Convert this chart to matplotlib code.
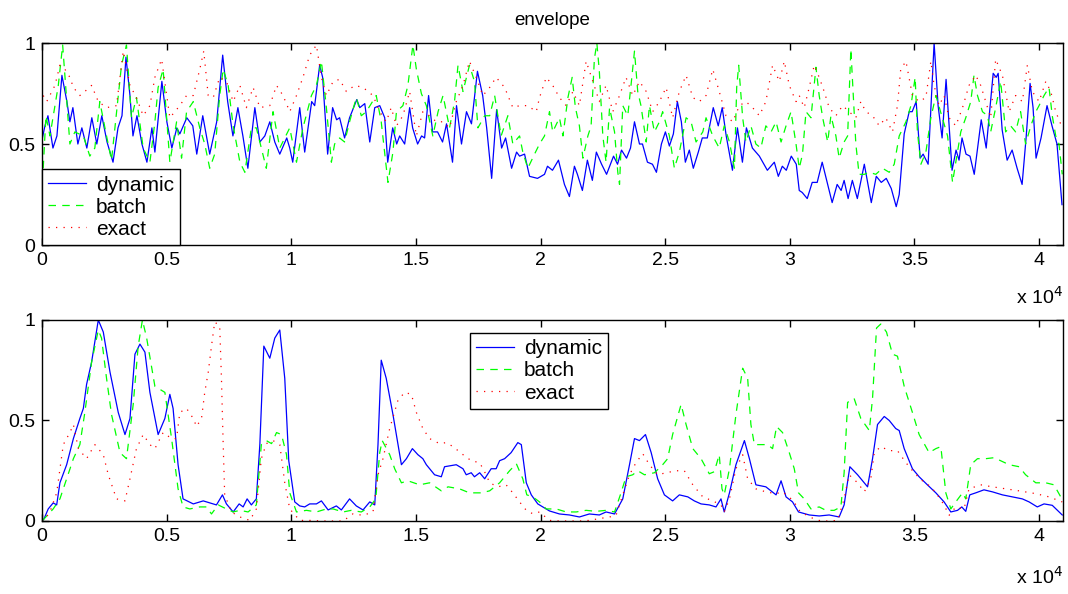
import matplotlib
matplotlib.use('Agg')
import matplotlib.pyplot as plt

# envelope values (x in samples, y normalised)
top_dynamic = [(0, .52), (120, .59), (240, .64), (440, .48), (600, .54), (800, .84), (1000, .71), (1120, .61),
               (1240, .68), (1440, .50), (1600, .58), (1800, .48), (2000, .63), (2200, .50), (2400, .64),
               (2610, .51), (2850, .41), (3050, .58), (3210, .64), (3370, .93), (3530, .74), (3650, .54),
               (3810, .64), (4010, .50), (4210, .41), (4410, .58), (4530, .46), (4810, .81), (5010, .61),
               (5210, .48), (5410, .58), (5530, .55), (5810, .63), (6050, .59), (6210, .45), (6450, .64),
               (6730, .45), (7010, .61), (7250, .94), (7450, .71), (7660, .54), (7860, .68), (8060, .54),
               (8260, .38), (8540, .68), (8740, .51), (8940, .54), (9140, .61), (9340, .51), (9540, .45),
               (9820, .53), (9940, .48), (10060, .41), (10340, .68), (10540, .46), (10820, .71), (10940, .69),
               (11140, .89), (11260, .83), (11460, .45), (11660, .68), (11820, .62), (11940, .63), (12140, .53),
               (12340, .63), (12630, .72), (12750, .68), (12950, .70), (13150, .51), (13350, .68), (13550, .69),
               (13750, .63), (13870, .41), (14070, .58), (14230, .50), (14350, .54), (14550, .50), (14750, .68),
               (14870, .58), (15070, .50), (15230, .54), (15350, .53), (15510, .74), (15670, .56), (15870, .56),
               (16070, .51), (16230, .60), (16470, .41), (16630, .69), (16830, .50), (17030, .66), (17230, .60),
               (17470, .86), (17680, .74), (17840, .58), (18040, .33), (18240, .67), (18440, .48), (18600, .53),
               (18840, .38), (19040, .46), (19160, .44), (19360, .45), (19560, .34), (19880, .33), (20160, .35),
               (20280, .39), (20480, .37), (20720, .42), (20960, .30), (21160, .24), (21360, .39), (21480, .35),
               (21680, .27), (21880, .42), (22080, .32), (22240, .46), (22450, .40), (22650, .35), (22930, .44),
               (23090, .40), (23250, .47), (23450, .43), (23610, .48), (23770, .61), (23970, .50), (24090, .50),
               (24290, .41), (24490, .40), (24650, .36), (24850, .50), (25010, .56), (25170, .49), (25330, .55),
               (25490, .71), (25650, .61), (25810, .41), (25970, .47), (26130, .38), (26330, .46), (26490, .53),
               (26690, .53), (26930, .68), (27130, .59), (27290, .68), (27450, .54), (27700, .37), (27900, .58),
               (28100, .41), (28260, .58), (28500, .48), (28780, .44), (29100, .37), (29380, .41), (29540, .34),
               (29700, .39), (29860, .37), (30060, .44), (30260, .40), (30380, .27), (30500, .26), (30700, .23),
               (30900, .31), (31100, .31), (31300, .41), (31500, .31), (31700, .21), (31900, .30), (32060, .27),
               (32180, .32), (32340, .23), (32510, .32), (32710, .23), (32990, .40), (33270, .21), (33470, .34),
               (33670, .31), (33870, .33), (34070, .28), (34270, .19), (34390, .25), (34590, .55), (34790, .66),
               (34910, .66), (35070, .71), (35230, .43), (35350, .45), (35550, .40), (35790, 1.0), (35950, .69),
               (36110, .53), (36270, .82), (36510, .37), (36670, .47), (36790, .42), (36910, .53), (37070, .45),
               (37230, .44), (37400, .35), (37680, .62), (37880, .48), (38160, .85), (38280, .83), (38360, .85),
               (38520, .57), (38720, .42), (38920, .47), (39120, .38), (39320, .30), (39480, .53), (39640, .80),
               (39760, .68), (39880, .43), (40080, .53), (40320, .69), (40520, .59), (40720, .50), (40920, .20)]

top_batch = [(50, .38), (160, .64), (320, .54), (655, .79), (830, .99), (1120, .50), (1320, .56), (1660, .54),
             (1920, .44), (2120, .48), (2320, .71), (2590, .54), (2790, .42), (3190, .89), (3390, .99), (3590, .63),
             (3790, .73), (4060, .48), (4330, .41), (4530, .61), (4660, .78), (4860, .87), (5130, .41), (5400, .61),
             (5600, .43), (5800, .66), (6070, .71), (6330, .58), (6530, .50), (6730, .38), (6930, .45), (7130, .74),
             (7270, .87), (7470, .79), (7670, .59), (7940, .41), (8140, .36), (8400, .58), (8600, .58), (9000, .38),
             (9270, .66), (9540, .48), (9940, .58), (10210, .41), (10470, .58), (10810, .74), (11010, .79),
             (11210, .91), (11410, .68), (11610, .41), (11740, .50), (11940, .53), (12140, .51), (12340, .61),
             (12610, .73), (12810, .64), (13010, .66), (13410, .74), (13610, .61), (13880, .31), (14080, .46),
             (14220, .66), (14480, .69), (14680, .79), (14880, .99), (15020, .87), (15220, .75), (15420, .69),
             (15680, .54), (15890, .66), (16090, .74), (16350, .58), (16550, .71), (16690, .89), (16890, .76),
             (17150, .89), (17350, .81), (17490, .58), (17760, .64), (17960, .64), (18160, .74), (18420, .54),
             (18690, .64), (18890, .50), (19160, .54), (19290, .46), (19490, .38), (19760, .45), (19960, .50),
             (20160, .54), (20360, .66), (20490, .56), (20760, .63), (20900, .54), (21100, .73), (21270, .83),
             (21400, .68), (21560, .59), (21700, .43), (21900, .54), (22030, .59), (22160, .92), (22260, 1.0),
             (22360, .86), (22500, .54), (22630, .41), (22770, .68), (22970, .56), (23100, .36), (23170, .30),
             (23300, .69), (23500, .64), (23630, .79), (23770, .96), (23900, .76), (24030, .69), (24240, .51),
             (24370, .69), (24570, .56), (24770, .61), (24900, .66), (25170, .54), (25370, .38), (25570, .46),
             (25840, .63), (26040, .61), (26240, .51), (26510, .56), (26640, .63), (26910, .54), (27170, .48),
             (27370, .59), (27580, .51), (27780, .38), (27870, .78), (27950, .89), (28110, .63), (28240, .51),
             (28440, .59), (28640, .50), (28840, .48), (29040, .59), (29250, .56), (29450, .61), (29650, .51),
             (29850, .59), (30050, .66), (30250, .50), (30380, .38), (30510, .45), (30650, .66), (30850, .63),
             (31050, .88), (31180, .74), (31320, .63), (31520, .51), (31650, .64), (31850, .54), (31980, .43),
             (32180, .51), (32320, .54), (32450, .97), (32540, .76), (32650, .50), (32780, .35), (32990, .35),
             (33190, .36), (33450, .35), (33720, .38), (33990, .36), (34190, .40), (34390, .54), (34660, .61),
             (34860, .69), (35030, .83), (35120, .56), (35260, .40), (35460, .46), (35660, .63), (35860, .74),
             (36120, .63), (36330, .54), (36530, .31), (36660, .41), (36860, .56), (37060, .63), (37260, .71),
             (37390, .84), (37530, .74), (37730, .66), (37930, .64), (38060, .56), (38260, .68), (38460, .81),
             (38660, .56), (38860, .59), (39060, .56), (39260, .66), (39460, .50), (39670, .59), (39870, .66),
             (40000, .69), (40200, .74), (40400, .78), (40530, .64), (40670, .54), (40800, .50), (40930, .35)]

top_exact = [(50, .74), (190, .71), (520, .79), (720, .89), (920, .87), (1120, .83), (1260, .78), (1520, .74),
             (1720, .76), (1990, .79), (2260, .71), (2590, .68), (2990, .69), (3260, .96), (3530, .79), (3790, .73),
             (4060, .64), (4330, .69), (4530, .83), (4800, .92), (5130, .63), (5530, .69), (5800, .74), (6070, .74),
             (6330, .87), (6490, .96), (6670, .74), (6870, .73), (7130, .83), (7400, .81), (7670, .71), (7940, .79),
             (8200, .68), (8470, .78), (8740, .68), (9140, .69), (9410, .79), (9670, .74), (9940, .66),
             (10210, .74), (10470, .83), (10740, .94), (11010, .99), (11210, .83), (11410, .74), (11680, .81),
             (11940, .82), (12210, .76), (12550, .79), (12880, .78), (13280, .74), (13550, .66), (13810, .61),
             (14010, .68), (14220, .59), (14480, .64), (14750, .76), (15020, .54), (15280, .66), (15550, .64),
             (15820, .61), (16090, .61), (16350, .58), (16620, .71), (16890, .79), (17150, .91), (17420, .83),
             (17690, .74), (17960, .78), (18220, .83), (18560, .78), (18890, .68), (19160, .69), (19490, .69),
             (19830, .66), (19960, .73), (20230, .83), (20490, .79), (20760, .73), (21030, .69), (21300, .76),
             (21560, .69), (21830, .91), (22100, .81), (22360, .71), (22630, .79), (22900, .66), (23170, .74),
             (23430, .83), (23700, .74), (23970, .81), (24240, .76), (24500, .66), (24770, .71), (25040, .78),
             (25300, .63), (25570, .76), (25840, .84), (26110, .73), (26370, .71), (26640, .74), (26910, .87),
             (27170, .76), (27440, .64), (27710, .61), (27980, .69), (28240, .71), (28510, .68), (28780, .64),
             (29040, .71), (29310, .89), (29580, .81), (29780, .91), (29980, .79), (30250, .71), (30380, .74),
             (30580, .68), (30780, .78), (30980, .89), (31180, .83), (31380, .76), (31580, .68), (31850, .64),
             (32120, .69), (32380, .66), (32650, .63), (32850, .71), (33050, .66), (33320, .64), (33590, .59),
             (33850, .63), (34120, .56), (34320, .69), (34450, .87), (34660, .91), (34920, .74), (35190, .71),
             (35460, .73), (35660, .91), (35790, .79), (35990, .69), (36190, .74), (36390, .63), (36660, .59),
             (36930, .68), (37190, .79), (37460, .84), (37660, .79), (37860, .71), (38060, .63), (38260, .92),
             (38530, .84), (38800, .66), (39060, .74), (39330, .71), (39530, .89), (39730, .76), (40000, .71),
             (40270, .81), (40470, .76), (40670, .66), (40930, .58)]

bottom_dynamic = [(0, 0.0), (80, .01), (250, .06), (450, .09), (590, .08), (720, .19), (990, .28), (1260, .41),
                  (1520, .51), (1660, .56), (1790, .68), (1990, .79), (2260, 1.0), (2460, .94), (2730, .74),
                  (3060, .54), (3330, .43), (3530, .51), (3730, .83), (3930, .88), (4130, .84), (4330, .64),
                  (4660, .43), (4930, .51), (5130, .63), (5260, .56), (5460, .28), (5660, .11), (6070, .085),
                  (6470, .10), (6730, .09), (7000, .08), (7240, .13), (7400, .085), (7670, .045), (7910, .085),
                  (8070, .07), (8230, .11), (8400, .08), (8600, .11), (8740, .38), (8900, .87), (9140, .81),
                  (9340, .91), (9540, .95), (9740, .71), (9900, .30), (10140, .095), (10340, .075), (10540, .07),
                  (10740, .085), (11010, .085), (11210, .10), (11480, .055), (11810, .075), (12010, .055),
                  (12340, .11), (12610, .075), (12880, .055), (13150, .095), (13350, .08), (13480, .38),
                  (13610, .80), (13810, .71), (14080, .53), (14420, .28), (14620, .31), (14860, .36), (15080, .33),
                  (15280, .31), (15420, .28), (15750, .23), (16020, .22), (16150, .27), (16620, .28), (16890, .26),
                  (17020, .23), (17220, .24), (17350, .22), (17560, .24), (17760, .21), (18020, .26), (18220, .26),
                  (18360, .30), (18560, .31), (18820, .34), (19090, .39), (19230, .38), (19430, .19), (19630, .13),
                  (19890, .085), (20360, .05), (20760, .035), (21160, .03), (21560, .02), (21960, .035),
                  (22360, .03), (22630, .045), (22970, .035), (23300, .11), (23570, .28), (23770, .41),
                  (23970, .40), (24210, .43), (24440, .34), (24700, .21), (24970, .13), (25300, .10), (25570, .13),
                  (25910, .12), (26170, .10), (26440, .085), (26770, .08), (27040, .07), (27240, .11),
                  (27370, .045), (27580, .14), (27840, .28), (28180, .40), (28380, .31), (28640, .18), (29040, .17),
                  (29450, .13), (29650, .20), (29850, .12), (30110, .095), (30350, .045), (30780, .03),
                  (31180, .025), (31580, .03), (31980, .02), (32180, .08), (32410, .27), (32720, .23), (33120, .17),
                  (33320, .31), (33520, .48), (33790, .52), (33990, .50), (34250, .46), (34390, .45), (34590, .36),
                  (34920, .26), (35190, .22), (35520, .18), (35860, .14), (36190, .095), (36460, .045),
                  (36730, .053), (36900, .07), (37060, .048), (37220, .13), (37460, .14), (37790, .155),
                  (38130, .145), (38530, .13), (38930, .12), (39330, .11), (39600, .095), (39930, .07),
                  (40200, .085), (40530, .078), (40930, .03)]

bottom_batch = [(0, 0.0), (80, .01), (450, .06), (720, .11), (990, .21), (1260, .31), (1520, .38), (1720, .54),
                (1990, .79), (2260, .95), (2390, .91), (2590, .71), (2790, .53), (3130, .34), (3390, .31),
                (3660, .58), (3860, .87), (4030, 1.0), (4200, .91), (4530, .67), (4930, .64), (5200, .41),
                (5460, .16), (5660, .07), (5930, .06), (6330, .07), (6600, .07), (6800, .035), (7070, .08),
                (7400, .06), (7670, .045), (7940, .053), (8270, .045), (8600, .08), (8800, .38), (9000, .40),
                (9210, .385), (9410, .44), (9610, .43), (9810, .33), (9940, .14), (10210, .045), (10610, .053),
                (11010, .045), (11410, .06), (11680, .06), (12080, .045), (12410, .053), (12810, .045),
                (13150, .07), (13390, .11), (13550, .34), (13650, .40), (13950, .33), (14150, .26), (14420, .19),
                (14680, .20), (15150, .18), (15550, .19), (16020, .15), (16290, .17), (16750, .16), (17150, .14),
                (17620, .14), (17960, .15), (18360, .19), (18760, .25), (19030, .285), (19290, .21), (19450, .13),
                (19690, .12), (19960, .095), (20230, .06), (20630, .06), (21030, .045), (21430, .045),
                (21830, .053), (22230, .048), (22630, .053), (22970, .045), (23230, .14), (23430, .22),
                (23700, .23), (23900, .25), (24170, .23), (24570, .24), (24900, .28), (25100, .31), (25300, .43),
                (25640, .58), (25840, .48), (26110, .36), (26440, .31), (26770, .235), (26970, .245), (27170, .33),
                (27280, .16), (27370, .13), (27580, .26), (27840, .53), (28110, .76), (28310, .71), (28440, .48),
                (28580, .38), (28910, .38), (29110, .38), (29310, .36), (29470, .47), (29710, .44), (29980, .34),
                (30180, .26), (30350, .14), (30580, .11), (30850, .06), (31180, .07), (31450, .053), (31780, .053),
                (32050, .07), (32180, .24), (32320, .59), (32580, .61), (32850, .51), (33190, .45), (33320, .61),
                (33480, .96), (33650, .98), (33880, .94), (34120, .83), (34320, .82), (34590, .67), (34920, .54),
                (35190, .43), (35590, .34), (35860, .36), (36060, .37), (36260, .14), (36460, .06), (36660, .095),
                (36930, .14), (37060, .11), (37260, .28), (37530, .31), (37860, .31), (38200, .315), (38460, .30),
                (38800, .28), (39200, .27), (39460, .23), (39870, .19), (40270, .19), (40600, .18), (40870, .12)]

bottom_exact = [(0, 0.0), (80, .003), (320, .045), (590, .14), (855, .38), (1120, .44), (1260, .48), (1460, .36),
                (1790, .31), (2120, .38), (2460, .33), (2660, .23), (2990, .11), (3330, .10), (3530, .21),
                (3790, .36), (4060, .43), (4330, .38), (4530, .36), (4860, .44), (5200, .41), (5400, .41),
                (5530, .54), (5800, .56), (6070, .51), (6200, .47), (6400, .51), (6530, .64), (6670, .74),
                (6800, .87), (6930, .99), (7130, .97), (7200, .71), (7270, .38), (7330, .13), (7600, .045),
                (7940, .02), (8340, .003), (8600, .06), (8800, .31), (9000, .385), (9270, .40), (9540, .38),
                (9740, .19), (9940, .06), (10340, .003), (10740, .003), (11280, 0.0), (11680, 0.0), (12080, 0.0),
                (12480, .036), (12880, .028), (13280, .045), (13480, .23), (13680, .31), (13950, .46), (14280, .60),
                (14550, .64), (14820, .63), (15020, .54), (15280, .46), (15550, .41), (15950, .385), (16220, .39),
                (16490, .37), (16890, .33), (17220, .30), (17560, .29), (17820, .23), (17960, .19), (18290, .17),
                (18620, .18), (18890, .14), (19160, .095), (19430, .053), (19690, .036), (19960, .045),
                (20360, .003), (20760, 0.0), (21160, 0.0), (21560, 0.0), (21960, .003), (22360, .012),
                (22770, .02), (23030, .028), (23300, .13), (23570, .23), (23830, .29), (24100, .335), (24370, .28),
                (24700, .23), (25040, .24), (25440, .25), (25770, .25), (26110, .18), (26510, .12), (26910, .10),
                (27240, .08), (27370, .045), (27580, .11), (27840, .26), (28110, .33), (28310, .21), (28640, .16),
                (29040, .145), (29450, .136), (29710, .145), (29980, .12), (30250, .08), (30380, .053),
                (30780, .02), (31250, 0.0), (31580, 0.0), (31920, .003), (32180, .11), (32380, .23), (32720, .19),
                (32990, .145), (33250, .21), (33390, .34), (33650, .37), (33990, .35), (34320, .35), (34660, .29),
                (34990, .24), (35320, .20), (35660, .17), (35920, .13), (36190, .08), (36390, .028), (36660, .07),
                (36990, .06), (37190, .16), (37660, .18), (38130, .17), (38660, .16), (39200, .15), (39870, .136),
                (40400, .12), (40930, .095)]

names = ['dynamic', 'batch', 'exact']
xtick_vals = [0, 5000, 10000, 15000, 20000, 25000, 30000, 35000, 40000]
xtick_labels = ['0', '0.5', '1', '1.5', '2', '2.5', '3', '3.5', '4']
ytick_vals = [0, 0.5, 1]
ytick_labels = ['0', '0.5', '1']

plt.rcParams['font.family'] = ['Liberation Sans', 'DejaVu Sans']
plt.rcParams['font.size'] = 14


def unzip(pts):
    return [p[0] for p in pts], [p[1] for p in pts]


fig = plt.figure(figsize=(10.68, 5.94), dpi=100)
ax1 = fig.add_axes([0.0393, 0.5875, 0.956, 0.3401])
ax2 = fig.add_axes([0.0393, 0.1229, 0.956, 0.3384])

for ax, series in [(ax1, [top_dynamic, top_batch, top_exact]),
                   (ax2, [bottom_dynamic, bottom_batch, bottom_exact])]:
    x, y = unzip(series[0])
    ax.plot(x, y, color='#0000ff', lw=0.9, label=names[0])
    x, y = unzip(series[1])
    ax.plot(x, y, color='#00ff00', lw=0.9, linestyle=(0, (6, 5)), label=names[1])
    x, y = unzip(series[2])
    ax.plot(x, y, color='#ff0000', lw=0.9, linestyle=(0, (1, 5)), label=names[2])
    ax.set_xlim(0, 40960)
    ax.set_ylim(0, 1)
    ax.set_xticks(xtick_vals)
    ax.set_xticklabels(xtick_labels)
    ax.set_yticks(ytick_vals)
    ax.set_yticklabels(ytick_labels)
    ax.tick_params(direction='in', top=True, right=True, length=5, width=1, pad=5)
    for s in ax.spines.values():
        s.set_linewidth(1)

ax1.set_title('envelope', fontsize=13.5, pad=13)

leg_kw = dict(borderaxespad=0, fancybox=False, edgecolor='black', framealpha=1, fontsize=15,
              handlelength=1.8, handletextpad=0.5, labelspacing=0.15, borderpad=0.3)
leg1 = ax1.legend(loc='lower left', bbox_to_anchor=(0, 0), **leg_kw)
leg1.get_frame().set_linewidth(1)
leg2 = ax2.legend(loc='upper left', bbox_to_anchor=(0.419, 0.935), **leg_kw)
leg2.get_frame().set_linewidth(1)

fig.text(0.995, 0.50, r'x 10$^{4}$', ha='right', va='center')
fig.text(0.995, 0.029, r'x 10$^{4}$', ha='right', va='center')

fig.savefig('out.png', dpi=100)
